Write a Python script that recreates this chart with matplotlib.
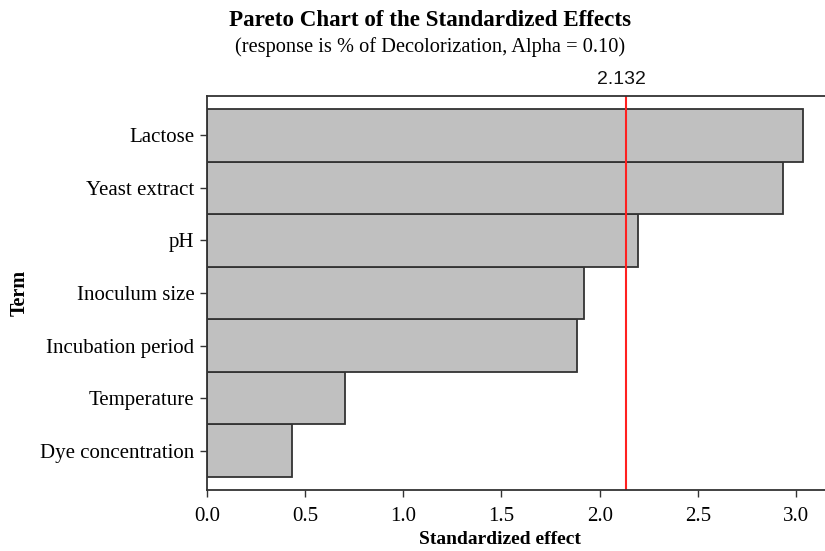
import matplotlib.pyplot as plt
import numpy as np

terms = ["Dye concentration", "Temperature", "Incubation period", "Inoculum size",
         "pH", "Yeast extract", "Lactose"]
effects = [0.433, 0.703, 1.885, 1.92, 2.196, 2.934, 3.036]
critical = 2.132
xticks = [0.0, 0.5, 1.0, 1.5, 2.0, 2.5, 3.0]

plt.rcParams['font.family'] = ['Liberation Serif', 'DejaVu Serif']

fig = plt.figure(figsize=(8.25, 5.51), dpi=100)
ax = fig.add_axes([207 / 825, 1 - 490 / 551, 1 - 207 / 825, (490 - 96) / 551])

y = np.arange(len(terms))
ax.barh(y, effects, height=1.0, color="#c0c0c0", edgecolor="#333333", linewidth=1.3)
ax.axvline(critical, color="#ff2020", linewidth=1.5)

ax.set_xlim(0, 3.148)
ax.set_ylim(-0.75, 6.75)
ax.set_yticks(y)
ax.set_yticklabels(terms, fontsize=15)
ax.set_xticks(xticks)
ax.set_xticklabels([f"{t:.1f}" for t in xticks], fontsize=15)
ax.tick_params(direction="out", length=5, width=1, color="#333333")
ax.tick_params(axis="x", pad=7)
ax.tick_params(axis="y", pad=4)
ax.spines["right"].set_visible(False)
for s in ["left", "top", "bottom"]:
    ax.spines[s].set_color("#333333")
    ax.spines[s].set_linewidth(1.3)

# axis titles at fixed figure positions
fig.text(500 / 825, 1 - 540 / 551, "Standardized effect", ha="center", va="center",
         fontsize=14, fontweight="bold")
fig.text(20 / 825, 1 - 293 / 551, "Term", ha="center", va="center", rotation=90,
         fontsize=14.5, fontweight="bold")

ax.text(critical - 0.02, 6.9, f"{critical:.3f}", ha="center", va="bottom", fontsize=14,
        family=["Liberation Sans", "DejaVu Sans"], color="#111111")

fig.text(430 / 825, 1 - 20 / 551, "Pareto Chart of the Standardized Effects",
         ha="center", va="center", fontsize=16.6, fontweight="bold")
fig.text(430 / 825, 1 - 47 / 551, "(response is % of Decolorization, Alpha = 0.10)",
         ha="center", va="center", fontsize=14.7)

fig.savefig("out.png", dpi=100)
